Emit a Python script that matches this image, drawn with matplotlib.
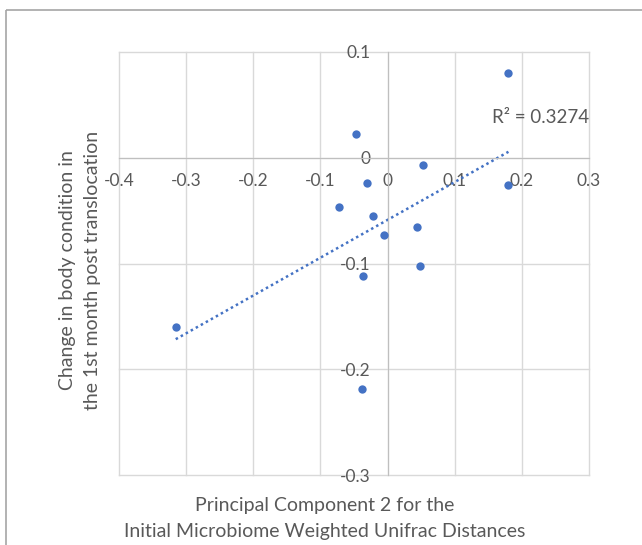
import numpy as np
import matplotlib
matplotlib.use("Agg")
import matplotlib.pyplot as plt
from matplotlib.patches import Rectangle

plt.rcParams['font.family'] = ['Lato', 'DejaVu Sans']

# Data
pc2 = [0.179, -0.047, 0.0525, -0.030, 0.180, -0.0725, -0.0223, 0.0431, -0.006, 0.0486, -0.0363, -0.3155, -0.0387]
body_change = [0.0804, 0.0227, -0.0070, -0.0243, -0.0262, -0.0470, -0.0555, -0.0653, -0.0732, -0.1019, -0.1116, -0.1596, -0.2185]
x_ticks = [-0.4, -0.3, -0.2, -0.1, 0.0, 0.1, 0.2, 0.3]
y_ticks = [-0.3, -0.2, -0.1, 0.0, 0.1]
x_tick_labels = ["-0.4", "-0.3", "-0.2", "-0.1", "0", "0.1", "0.2", "0.3"]
y_tick_labels = ["-0.3", "-0.2", "-0.1", "0", "0.1"]
r2_label = "R² = 0.3274"
x_title = ["Principal Component 2 for the", "Initial Microbiome Weighted Unifrac Distances"]
y_title = ["Change in body condition in", "the 1st month post translocation"]

W, H = 642, 545
fig = plt.figure(figsize=(W / 100, H / 100), dpi=100)
fig.patch.set_facecolor('white')

# chart-area border (partially cropped)
fig.patches.append(Rectangle((6 / W, 1 - 10 / H), 1.2, -1.2, transform=fig.transFigure,
                             fill=False, edgecolor='#a6a6a6', linewidth=1.2))

ax = fig.add_axes([119 / W, 1 - 475 / H, (589 - 119) / W, (475 - 52) / H])
ax.set_xlim(-0.4, 0.3)
ax.set_ylim(-0.3, 0.1)

grid_c = '#d9d9d9'
for xv in x_ticks:
    ax.axvline(xv, color=grid_c, lw=1.0, zorder=0, clip_on=False)
for yv in y_ticks:
    ax.axhline(yv, color=grid_c, lw=1.0, zorder=0, clip_on=False)

for s in ['top', 'right']:
    ax.spines[s].set_visible(False)
ax.spines['left'].set_position(('data', 0))
ax.spines['bottom'].set_position(('data', 0))
ax.spines['left'].set_color('#bfbfbf')
ax.spines['bottom'].set_color('#bfbfbf')

ax.set_xticks(x_ticks)
ax.set_xticklabels(x_tick_labels)
ax.set_yticks(y_ticks)
ax.set_yticklabels(y_tick_labels)
ax.tick_params(axis='both', length=0, labelsize=12.5, labelcolor='#595959')
ax.tick_params(axis='x', pad=11)
ax.tick_params(axis='y', pad=12)

blue = '#4472C4'
ax.scatter(pc2, body_change, s=36, color=blue, zorder=3, linewidths=0)

# linear trendline
xa = np.array(pc2)
ya = np.array(body_change)
m, b = np.polyfit(xa, ya, 1)
xl = np.array([xa.min(), xa.max()])
ax.plot(xl, m * xl + b, linestyle=(0, (1, 1.3)), color=blue, lw=1.8, zorder=2)

ax.text(0.228, 0.038, r2_label, ha='center', va='center', fontsize=13.5, color='#595959')

tc = '#595959'
fig.text(325 / W, 1 - 505 / H, x_title[0], ha='center', va='center', fontsize=14, color=tc)
fig.text(325 / W, 1 - 532 / H, x_title[1], ha='center', va='center', fontsize=14, color=tc)
fig.text(67 / W, 1 - 270 / H, y_title[0], ha='center', va='center', fontsize=14, color=tc, rotation=90)
fig.text(93 / W, 1 - 270 / H, y_title[1], ha='center', va='center', fontsize=14, color=tc, rotation=90)

fig.savefig('out.png', dpi=100, facecolor='white')
